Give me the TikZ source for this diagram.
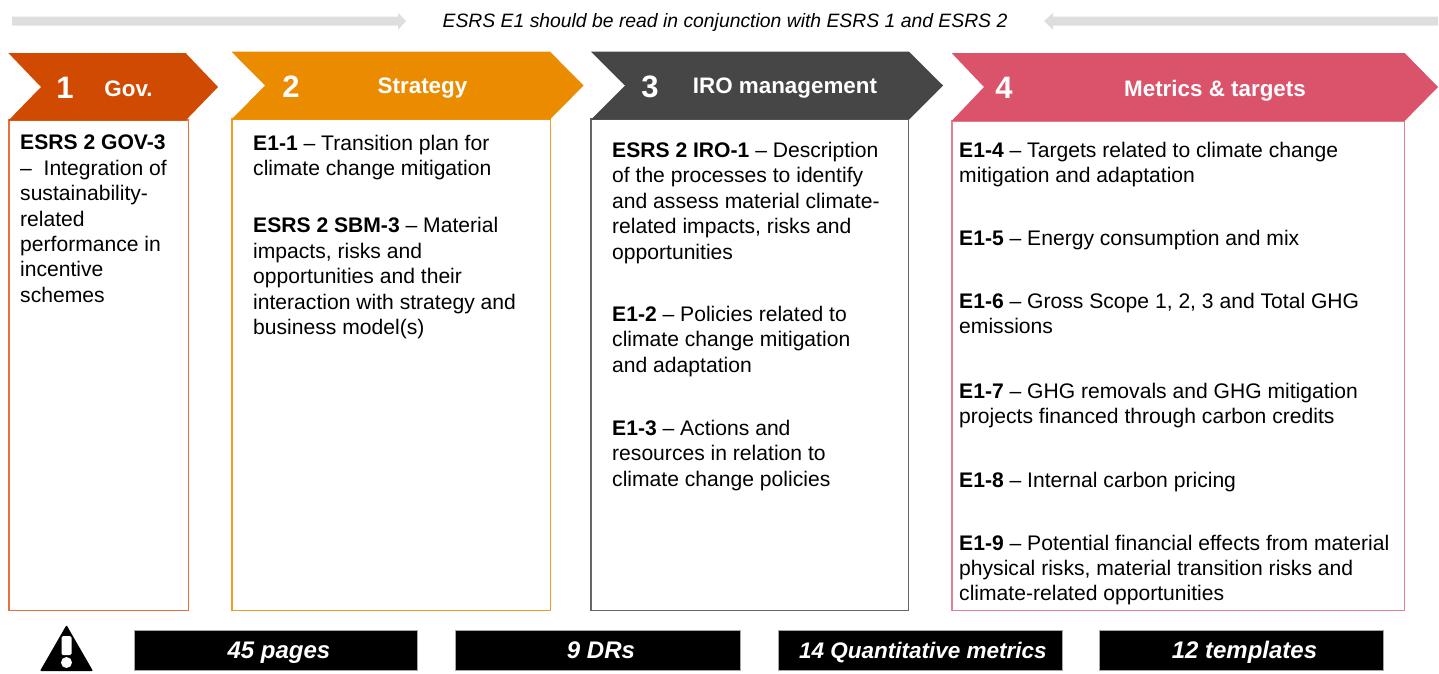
\documentclass[tikz,border=0pt]{standalone}
\usepackage{fontspec}
\setmainfont{Liberation Sans}
\definecolor{cgov}{HTML}{D04A02}
\definecolor{cstr}{HTML}{EB8C00}
\definecolor{ciro}{HTML}{464646}
\definecolor{cmet}{HTML}{DB536A}
\definecolor{lgov}{HTML}{E9703A}
\definecolor{lstr}{HTML}{F29B20}
\definecolor{liro}{HTML}{666666}
\definecolor{lmet}{HTML}{E77F92}
\definecolor{cgrey}{HTML}{DEDEDE}
\newcommand{\Chev}[8]{% colour, left, notch, shoulder, tip, top, bottom, mid
  \fill[#1] (#2,#6) -- (#4,#6) -- (#5,#8) -- (#4,#7) -- (#2,#7) -- (#3,#8) -- cycle;}
\tikzset{
  x=1pt,y=-1pt,
  para/.style={anchor=north west,inner sep=0pt,align=left,font=\fontsize{21.1}{25.4}\selectfont},
  num/.style={text=white,font=\fontsize{31}{34}\selectfont\bfseries,inner sep=0pt},
  head/.style={text=white,font=\fontsize{22.4}{24}\selectfont\bfseries,inner sep=0pt},
  colbox/.style={draw=#1,line width=1.1pt,fill=white},
  bar/.style={fill=black,draw=black!35,line width=0.5pt,text=white,minimum height=40pt,inner sep=0pt,text height=18pt,text depth=1pt,font=\fontsize{24}{26}\selectfont\bfseries\itshape,anchor=north west},
}
\begin{document}
\begin{tikzpicture}
\useasboundingbox (0,0) rectangle (1439,673);
% top arrows
\fill[cgrey] (12,16.5) -- (398,16.5) -- (398,13) -- (406,21) -- (398,30) -- (398,25.5) -- (12,25.5) -- cycle;
\fill[cgrey] (1438,16.5) -- (1053,16.5) -- (1053,13) -- (1044,21) -- (1053,30) -- (1053,25.5) -- (1438,25.5) -- cycle;
\node[inner sep=0pt,font=\fontsize{19.35}{22}\selectfont\itshape] (intro) at (725,22) {ESRS E1 should be read in conjunction with ESRS 1 and ESRS 2};
% boxes
\draw[colbox=lgov] (9,120) rectangle (188.5,610.5);
\draw[colbox=lstr] (232,119) rectangle (550.5,610.5);
\draw[colbox=liro] (591,119) rectangle (908.8,610.5);
\draw[colbox=lmet] (952,121) rectangle (1404.6,610.5);
% chevrons
\Chev{cgov}{8.4}{41}{185.6}{218}{53}{120.5}{87}
\Chev{cstr}{231.5}{265}{550}{583.6}{51.7}{119.5}{85.5}
\Chev{ciro}{591}{625}{909}{943}{51.7}{119.5}{85.5}
\Chev{cmet}{951.6}{984}{1404.6}{1438}{53}{121}{87}
\node[num] (n1) at (65,88) {1};
\node[head] (h1) at (128.5,88.5) {Gov.};
\node[num] (n2) at (291,87) {2};
\node[head] (h2) at (422.5,88.5) {Strategy};
\node[num] (n3) at (650,87) {3};
\node[head] (h3) at (785,88.5) {IRO management};
\node[num] (n4) at (1004,88) {4};
\node[head] (h4) at (1215,90.5) {Metrics \& targets};
% column 1
\node[para] (g1) at (20,135) {\textbf{ESRS 2 GOV-3}\\–\ \ Integration of\\sustainability-\\related\\performance in\\incentive\\schemes};
% column 2
\node[para] (s1) at (253,135) {\textbf{E1-1} – Transition plan for\\climate change mitigation};
\node[para] (s2) at (253,217.5) {\textbf{ESRS 2 SBM-3} – Material\\impacts, risks and\\opportunities and their\\interaction with strategy and\\business model(s)};
% column 3
\node[para] (i1) at (612,142) {\textbf{ESRS 2 IRO-1} – Description\\of the processes to identify\\and assess material climate-\\related impacts, risks and\\opportunities};
\node[para] (i2) at (612,306) {\textbf{E1-2} – Policies related to\\climate change mitigation\\and adaptation};
\node[para] (i3) at (612,420) {\textbf{E1-3} – Actions and\\resources in relation to\\climate change policies};
% column 4
\node[para] (m1) at (959,142) {\textbf{E1-4} – Targets related to climate change\\mitigation and adaptation};
\node[para] (m2) at (959,230) {\textbf{E1-5} – Energy consumption and mix};
\node[para] (m3) at (959,293) {\textbf{E1-6} – Gross Scope 1, 2, 3 and Total GHG\\emissions};
\node[para] (m4) at (959,383) {\textbf{E1-7} – GHG removals and GHG mitigation\\projects financed through carbon credits};
\node[para] (m5) at (959,472) {\textbf{E1-8} – Internal carbon pricing};
\node[para] (m6) at (959,534.5) {\textbf{E1-9} – Potential financial effects from material\\physical risks, material transition risks and\\climate-related opportunities};
% bottom
\fill[black,rounded corners=1pt] (66.5,625) -- (93,671) -- (40,671) -- cycle;
\fill[white,rounded corners=1.5pt] (61.5,636) rectangle (71.5,655);
\fill[white] (66.5,662.5) circle (5.5);
\node[bar,minimum width=283pt] (b1) at (133.7,629.7) {\hspace*{7pt}45 pages};
\node[bar,minimum width=285pt] (b2) at (454.7,629.7) {\hspace*{7pt}9 DRs};
\node[bar,minimum width=284pt,font=\fontsize{22.5}{26}\selectfont\bfseries\itshape] (b3) at (777.7,629.7) {\hspace*{6pt}14 Quantitative metrics};
\node[bar,minimum width=284pt] (b4) at (1098.7,629.7) {\hspace*{7pt}12 templates};
\end{tikzpicture}
\end{document}
